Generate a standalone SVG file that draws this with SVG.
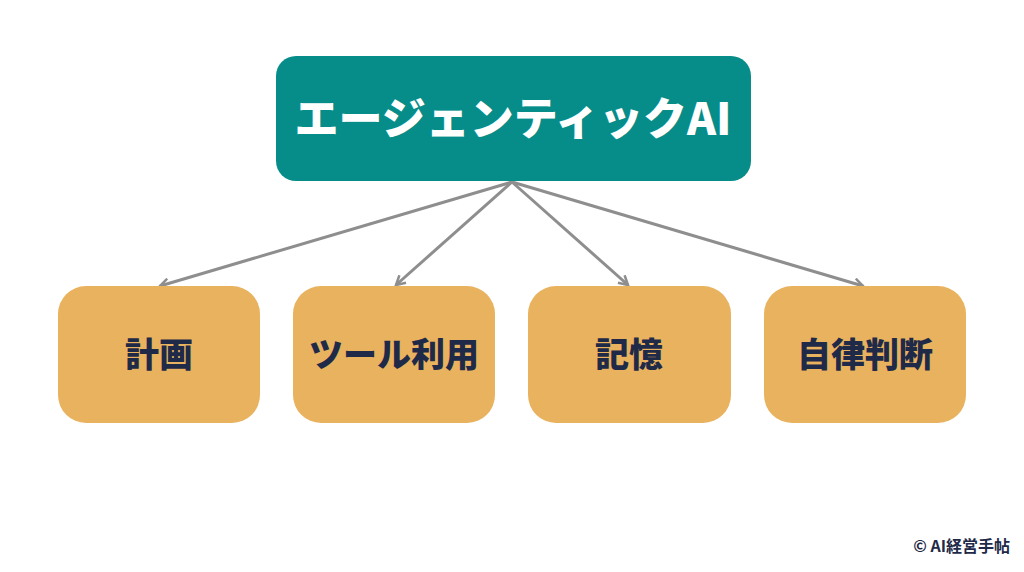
<svg xmlns="http://www.w3.org/2000/svg" width="1024" height="572" viewBox="0 0 1024 572">
<style>
.top{fill:#078d89}
.box{fill:#e9b25e}
.t1{font-family:"Noto Sans CJK JP","Noto Sans",sans-serif;font-weight:900;font-size:44px;fill:#ffffff;text-anchor:middle}
.t2{font-family:"Noto Sans CJK JP","Noto Sans",sans-serif;font-weight:900;font-size:34px;fill:#1f2a48;text-anchor:middle}
.ft{font-family:"Noto Sans CJK JP","Noto Sans",sans-serif;font-weight:700;font-size:16px;fill:#1f2a48;text-anchor:end}
.c{stroke:#8e8e8e;stroke-width:3;fill:none;marker-end:url(#ah)}
</style>
<defs>
<marker id="ah" viewBox="0 0 12 12" refX="10" refY="6" markerWidth="12" markerHeight="12" markerUnits="userSpaceOnUse" orient="auto">
<path d="M1,1 L10,6 L1,11" fill="none" stroke="#8e8e8e" stroke-width="2.5"/>
</marker>
</defs>
<rect width="1024" height="572" fill="#ffffff"/>
<g id="connectors">
<line class="c" x1="512" y1="182" x2="160" y2="286"/>
<line class="c" x1="512" y1="182" x2="396" y2="285"/>
<line class="c" x1="512" y1="182" x2="628" y2="285"/>
<line class="c" x1="512" y1="182" x2="863" y2="286"/>
</g>
<g id="root">
<rect class="top" x="276" y="56" width="475" height="125" rx="20"/>
<text class="t1" x="513" y="135">エージェンティックAI</text>
</g>
<g id="n1">
<rect class="box" x="58" y="286" width="202" height="137" rx="28"/>
<text class="t2" x="159" y="367">計画</text>
</g>
<g id="n2">
<rect class="box" x="293" y="286" width="202" height="137" rx="28"/>
<text class="t2" x="394" y="367">ツール利用</text>
</g>
<g id="n3">
<rect class="box" x="528" y="286" width="203" height="137" rx="28"/>
<text class="t2" x="629" y="367">記憶</text>
</g>
<g id="n4">
<rect class="box" x="764" y="286" width="202" height="137" rx="28"/>
<text class="t2" x="865" y="367">自律判断</text>
</g>
<text class="ft" x="1010" y="552">© AI経営手帖</text>
</svg>
